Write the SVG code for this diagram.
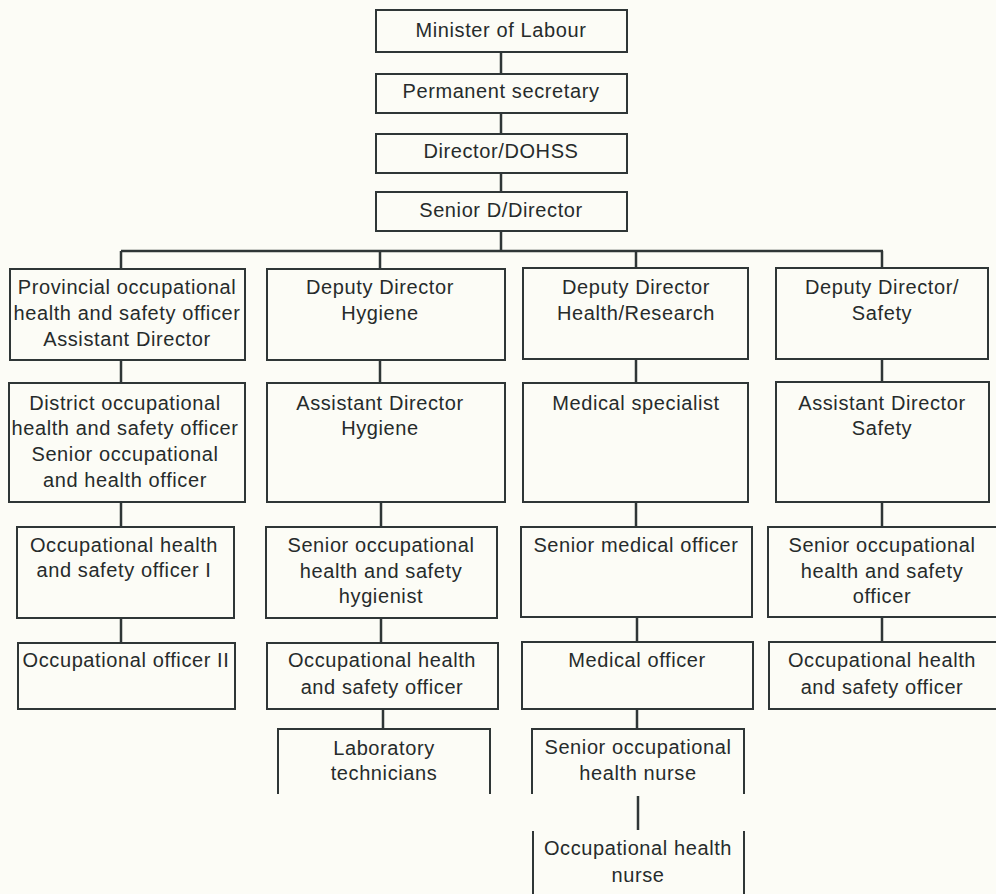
<svg xmlns="http://www.w3.org/2000/svg" width="996" height="894" viewBox="0 0 996 894">
<style>
.bg{fill:#fcfcf6}
.box{fill:none;stroke:#2f3636;stroke-width:2}
.ln{fill:none;stroke:#2f3636;stroke-width:2.5}
text{font-family:"Liberation Sans",Arial,sans-serif;font-size:20px;letter-spacing:0.6px;fill:#262b2b;text-anchor:middle}
</style>
<rect class="bg" x="0" y="0" width="996" height="894"/>
<g id="connectors">
<path class="ln" d="M501 52V74M501 113V134M501 173V192M501 231V251M121 251H883M121 251V269M380 251V269M636 251V268M882 251V268"/>
<path class="ln" d="M121 360V383M121 502V527M121 618V643"/>
<path class="ln" d="M380 360V383M381 502V527M381 618V643M383 709V729"/>
<path class="ln" d="M636 359V383M636 502V527M637 617V642M637 709V729M638 796V830"/>
<path class="ln" d="M882 359V382M882 502V527M882 617V642"/>
</g>
<g id="minister"><rect class="box" x="376" y="10" width="251" height="42"/><text x="501" y="37">Minister of Labour</text></g>
<g id="permanent-secretary"><rect class="box" x="376" y="74" width="251" height="39"/><text x="501" y="98">Permanent secretary</text></g>
<g id="director-dohss"><rect class="box" x="376" y="134" width="251" height="39"/><text x="501" y="158">Director/DOHSS</text></g>
<g id="senior-d-director"><rect class="box" x="376" y="192" width="251" height="39"/><text x="501" y="217">Senior D/Director</text></g>

<g id="provincial"><rect class="box" x="10" y="269" width="235" height="91"/><text x="127" y="294">Provincial occupational</text><text x="127" y="320">health and safety officer</text><text x="127" y="346">Assistant Director</text></g>
<g id="dd-hygiene"><rect class="box" x="267" y="269" width="238" height="91"/><text x="380" y="294">Deputy Director</text><text x="380" y="320">Hygiene</text></g>
<g id="dd-health"><rect class="box" x="523" y="268" width="225" height="91"/><text x="636" y="294">Deputy Director</text><text x="636" y="320">Health/Research</text></g>
<g id="dd-safety"><rect class="box" x="776" y="268" width="212" height="91"/><text x="882" y="294">Deputy Director/</text><text x="882" y="320">Safety</text></g>

<g id="district"><rect class="box" x="9" y="383" width="236" height="119"/><text x="125" y="410">District occupational</text><text x="125" y="435">health and safety officer</text><text x="125" y="461">Senior occupational</text><text x="125" y="487">and health officer</text></g>
<g id="ad-hygiene"><rect class="box" x="267" y="383" width="238" height="119"/><text x="380" y="410">Assistant Director</text><text x="380" y="435">Hygiene</text></g>
<g id="medical-specialist"><rect class="box" x="523" y="383" width="225" height="119"/><text x="636" y="410">Medical specialist</text></g>
<g id="ad-safety"><rect class="box" x="776" y="382" width="213" height="120"/><text x="882" y="410">Assistant Director</text><text x="882" y="435">Safety</text></g>

<g id="ohs-officer-1"><rect class="box" x="17" y="527" width="217" height="91"/><text x="124" y="552">Occupational health</text><text x="124" y="577">and safety officer I</text></g>
<g id="senior-hygienist"><rect class="box" x="266" y="527" width="231" height="91"/><text x="381" y="552">Senior occupational</text><text x="381" y="578">health and safety</text><text x="381" y="603">hygienist</text></g>
<g id="senior-medical-officer"><rect class="box" x="521" y="527" width="231" height="90"/><text x="636" y="552">Senior medical officer</text></g>
<g id="senior-ohs-officer"><rect class="box" x="768" y="527" width="232" height="90"/><text x="882" y="552">Senior occupational</text><text x="882" y="578">health and safety</text><text x="882" y="603">officer</text></g>

<g id="occupational-officer-2"><rect class="box" x="18" y="643" width="217" height="66"/><text x="126" y="667">Occupational officer II</text></g>
<g id="ohs-officer-hygiene"><rect class="box" x="267" y="643" width="231" height="66"/><text x="382" y="667">Occupational health</text><text x="382" y="694">and safety officer</text></g>
<g id="medical-officer"><rect class="box" x="522" y="642" width="231" height="67"/><text x="637" y="667">Medical officer</text></g>
<g id="ohs-officer-safety"><rect class="box" x="769" y="642" width="231" height="67"/><text x="882" y="667">Occupational health</text><text x="882" y="694">and safety officer</text></g>

<g id="lab-technicians"><path class="box" d="M278 794V729H490V794"/><text x="384" y="755">Laboratory</text><text x="384" y="780">technicians</text></g>
<g id="senior-oh-nurse"><path class="box" d="M532 794V729H744V794"/><text x="638" y="754">Senior occupational</text><text x="638" y="780">health nurse</text></g>
<g id="oh-nurse"><path class="box" d="M533 831V894M744 831V894"/><text x="638" y="855">Occupational health</text><text x="638" y="882">nurse</text></g>
</svg>
